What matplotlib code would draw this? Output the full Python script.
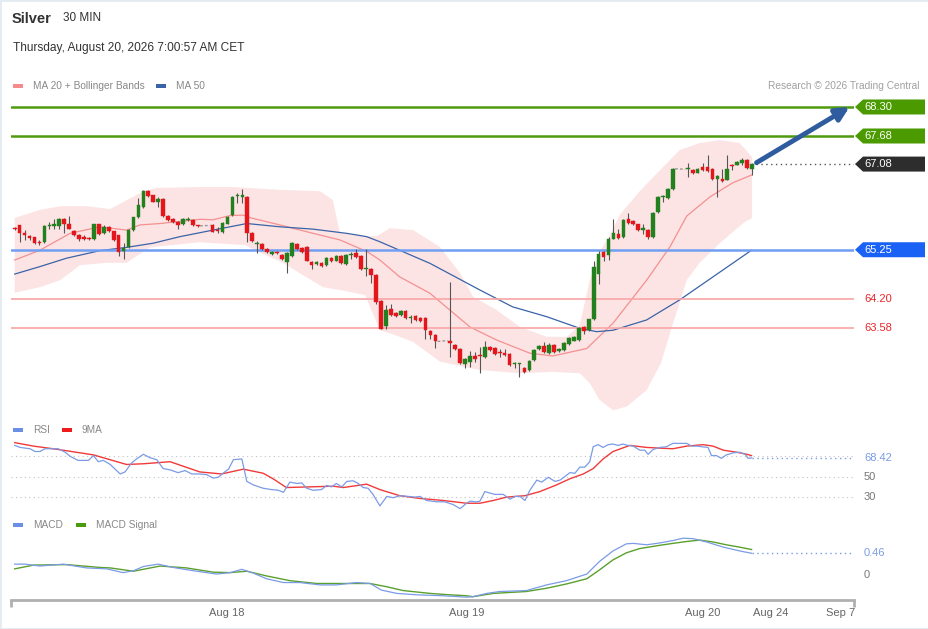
import numpy as np
import matplotlib
matplotlib.use("Agg")
import matplotlib.pyplot as plt
from matplotlib.patches import Polygon, Rectangle
from matplotlib.transforms import blended_transform_factory

plt.rcParams['font.family'] = ['Liberation Sans', 'DejaVu Sans']

W, H = 929, 629

# ---- data -------------------------------------------------------------
# 30 min bars; four sessions split by the one hour daily break
session_start = [0, 40, 88, 136]
session_len = [38, 46, 46, 14]

opens = [
    65.71, 65.77, 65.60, 65.54, 65.52, 65.41, 65.42, 65.75, 65.76, 65.76,
    65.91, 65.81, 65.66, 65.57, 65.52, 65.51, 65.47, 65.80, 65.61, 65.74,
    65.64, 65.56, 65.22, 65.30, 65.67, 65.94, 66.17, 66.50, 66.41, 66.28,
    66.34, 65.98, 65.90, 65.84, 65.79, 65.89, 65.89, 65.77,
    65.77, 65.66, 65.63, 65.81, 65.99, 66.39, 66.37, 66.38, 65.60, 65.37,
    65.38, 65.27, 65.16, 65.21, 65.14, 64.99, 65.12, 65.37, 65.29, 65.30,
    64.99, 64.94, 64.97, 64.93, 65.07, 65.02, 65.12, 64.94, 65.13, 65.19,
    65.12, 64.84, 64.83, 64.72, 64.16, 63.63, 63.98, 63.89, 63.86, 63.95,
    63.79, 63.83, 63.79, 63.79, 63.52, 63.43,
    63.31, 63.21, 63.13, 62.81, 62.85, 62.98, 62.99, 62.96, 63.18, 63.15,
    63.05, 63.05, 63.03, 62.80, 62.80, 62.72, 62.69, 62.89, 63.12, 63.20,
    63.04, 63.21, 63.08, 63.11, 63.24, 63.31, 63.32, 63.59, 63.53, 63.76,
    64.73, 65.20, 65.13, 65.49, 65.58, 65.52, 65.90, 65.86, 65.79, 65.68,
    65.68, 65.52, 66.06, 66.37, 66.35, 66.54,
    66.97, 66.95, 66.90, 67.01, 67.01, 66.97, 66.76, 66.77, 66.75, 67.07,
    67.07, 67.10, 67.17, 66.98,
]
highs = [
    65.74, 65.78, 65.67, 65.57, 65.53, 65.46, 65.77, 65.85, 65.90, 65.92,
    65.92, 65.97, 65.67, 65.58, 65.57, 65.53, 65.81, 65.81, 65.77, 65.76,
    65.66, 65.57, 65.39, 65.69, 65.96, 66.35, 66.52, 66.53, 66.43, 66.38,
    66.36, 66.00, 65.92, 65.86, 65.93, 65.95, 65.91, 65.78,
    65.79, 65.73, 65.84, 65.97, 66.40, 66.46, 66.54, 66.40, 65.62, 65.44,
    65.40, 65.29, 65.23, 65.23, 65.16, 65.21, 65.42, 65.40, 65.31, 65.32,
    65.01, 65.01, 64.99, 65.09, 65.09, 65.14, 65.14, 65.15, 65.20, 65.27,
    65.14, 65.27, 64.85, 64.74, 64.18, 64.06, 64.10, 63.91, 63.97, 63.97,
    63.85, 63.85, 63.81, 63.81, 63.54, 63.45,
    64.56, 63.23, 63.15, 62.93, 63.09, 63.06, 63.18, 63.29, 63.20, 63.17,
    63.12, 63.13, 63.05, 62.85, 62.83, 62.74, 62.90, 63.13, 63.21, 63.28,
    63.26, 63.23, 63.15, 63.27, 63.38, 63.41, 63.60, 63.61, 63.78, 65.00,
    65.22, 65.22, 65.53, 65.90, 65.69, 65.91, 66.04, 65.88, 65.81, 65.81,
    65.70, 66.06, 66.40, 66.41, 66.56, 67.00,
    67.10, 66.97, 67.00, 67.10, 67.28, 66.99, 66.85, 66.98, 67.28, 67.09,
    67.14, 67.21, 67.19, 67.10,
]
lows = [
    65.67, 65.42, 65.46, 65.46, 65.37, 65.35, 65.40, 65.69, 65.69, 65.69,
    65.61, 65.69, 65.55, 65.44, 65.46, 65.45, 65.45, 65.57, 65.59, 65.62,
    65.44, 65.12, 65.06, 65.28, 65.65, 65.92, 66.15, 66.38, 66.26, 66.16,
    65.95, 65.87, 65.82, 65.70, 65.77, 65.86, 65.75, 65.74,
    65.62, 65.60, 65.61, 65.80, 65.97, 66.24, 66.24, 65.42, 65.42, 65.17,
    65.25, 65.18, 65.13, 65.15, 65.03, 64.76, 65.10, 65.24, 65.18, 65.00,
    64.84, 64.92, 64.88, 64.91, 64.98, 65.00, 64.94, 64.92, 65.06, 65.07,
    64.82, 64.69, 64.53, 64.10, 63.55, 63.55, 63.83, 63.81, 63.84, 63.77,
    63.69, 63.73, 63.71, 63.35, 63.35, 63.16,
    62.95, 63.11, 62.80, 62.73, 62.75, 62.86, 62.61, 62.94, 63.09, 63.00,
    62.96, 62.99, 62.77, 62.72, 62.54, 62.62, 62.66, 62.87, 63.10, 63.04,
    63.02, 63.04, 63.06, 63.09, 63.22, 63.29, 63.30, 63.45, 63.51, 63.74,
    64.52, 65.02, 65.03, 65.47, 65.48, 65.50, 65.81, 65.78, 65.65, 65.59,
    65.47, 65.50, 66.04, 66.27, 66.33, 66.52,
    66.81, 66.86, 66.88, 66.93, 66.92, 66.75, 66.38, 66.70, 66.73, 66.95,
    67.05, 67.07, 66.98, 66.85,
]
closes = [
    65.70, 65.60, 65.56, 65.50, 65.40, 65.40, 65.76, 65.76, 65.80, 65.91,
    65.81, 65.70, 65.57, 65.47, 65.47, 65.47, 65.80, 65.59, 65.74, 65.64,
    65.46, 65.21, 65.29, 65.67, 65.94, 66.20, 66.50, 66.40, 66.28, 66.34,
    65.97, 65.89, 65.84, 65.77, 65.90, 65.90, 65.77, 65.76,
    65.63, 65.64, 65.83, 65.96, 66.38, 66.40, 66.43, 65.61, 65.44, 65.38,
    65.27, 65.20, 65.21, 65.17, 65.05, 65.19, 65.40, 65.26, 65.20, 65.02,
    64.92, 64.99, 64.90, 65.07, 65.00, 65.12, 64.96, 65.13, 65.14, 65.09,
    64.84, 64.85, 64.70, 64.13, 63.56, 63.96, 63.85, 63.83, 63.95, 63.79,
    63.80, 63.75, 63.73, 63.53, 63.43, 63.29,
    63.25, 63.13, 62.82, 62.91, 62.99, 62.92, 62.98, 63.18, 63.11, 63.02,
    63.04, 63.01, 62.79, 62.83, 62.80, 62.64, 62.88, 63.11, 63.19, 63.06,
    63.22, 63.06, 63.13, 63.25, 63.36, 63.39, 63.58, 63.52, 63.76, 64.89,
    65.16, 65.09, 65.48, 65.60, 65.50, 65.89, 65.83, 65.80, 65.67, 65.69,
    65.52, 66.04, 66.38, 66.38, 66.54, 66.98,
    66.97, 66.88, 66.98, 66.95, 66.94, 66.77, 66.83, 66.72, 66.97, 67.04,
    67.12, 67.17, 67.00, 67.08,
]

# indicators, read at bar positions
ma20_x = [0, 5.1, 11.2, 17.2, 22.6, 25.3, 29.4, 37.4, 40.1, 43.5, 46.1, 48.1,
          53.6, 60.3, 65.7, 71.2, 73.8, 77.8, 83.9, 92.0, 97.4, 104.1, 108.7,
          115.6, 120.9, 127.7, 132.4, 135.8, 140.5, 145.1, 149]
ma20 = [65.03, 65.24, 65.60, 65.74, 65.67, 65.78, 65.81, 65.90, 65.89, 65.98,
        65.99, 65.92, 65.78, 65.60, 65.46, 65.21, 65.03, 64.67, 64.32, 63.60,
        63.32, 63.04, 62.98, 63.14, 63.68, 64.60, 65.31, 65.97, 66.38, 66.68,
        66.85]
ma50_x = [0, 5.1, 10.5, 17.2, 22.6, 28, 33.4, 40.1, 46.9, 53.6, 60.3, 67.1,
          71.1, 73.8, 83.9, 94, 100.6, 107.5, 114.2, 117.6, 120.9, 127.7,
          134.4, 141.1, 148.9]
ma50 = [64.73, 64.89, 65.07, 65.23, 65.30, 65.39, 65.53, 65.67, 65.81, 65.74,
        65.69, 65.60, 65.53, 65.42, 64.96, 64.39, 64.03, 63.82, 63.57, 63.50,
        63.53, 63.75, 64.18, 64.67, 65.24]
bb_up_x = [0, 5.1, 9.2, 14.6, 19.3, 23.9, 25.9, 28.7, 37.4, 44.1, 53.6, 61.7,
           64.3, 65.7, 69.8, 73.2, 75.8, 80.5, 85.9, 90, 92.6, 97.4, 102.1,
           107.5, 111.6, 114.2, 116.2, 118.2, 120.2, 122.3, 126.3, 130.4,
           134.4, 138.4, 142.5, 146.5, 149]
bb_up = [65.93, 66.10, 66.18, 66.18, 66.12, 66.38, 66.50, 66.57, 66.59, 66.59,
         66.53, 66.50, 66.31, 65.61, 65.54, 65.54, 65.71, 65.67, 65.31, 64.75,
         64.25, 63.96, 63.60, 63.39, 63.39, 63.64, 64.60, 65.20, 65.55, 66.00,
         66.50, 66.95, 67.38, 67.53, 67.59, 67.53, 67.23]
bb_low_x = [0, 5.1, 9.2, 13.2, 18.6, 22.6, 27.3, 37.4, 46.5, 50.6, 54.2, 57.6,
            62.3, 66.8, 70.8, 73.8, 76.8, 80.5, 85.9, 94, 102.1, 108.7, 114.2,
            116.2, 118.2, 120.9, 123.7, 127.7, 130.6, 132.6, 135.8, 138.4,
            142.5, 145.1, 147.5, 149]
bb_low = [64.33, 64.45, 64.60, 64.92, 64.97, 64.97, 65.30, 65.41, 65.35, 65.14,
          64.97, 64.75, 64.45, 64.37, 64.28, 63.53, 63.43, 63.28, 62.86, 62.68,
          62.61, 62.64, 62.61, 62.40, 62.04, 61.82, 61.90, 62.25, 62.83, 63.53,
          64.60, 64.97, 65.39, 65.63, 65.84, 65.93]

rsi_x = [0, 1.1, 3.1, 4.1, 5.1, 6.1, 8.8, 10.2, 11.2, 12.8, 14.9, 15.9, 16.9,
         17.9, 19.3, 20.3, 21.3, 22.3, 23.6, 24.6, 26, 27.3, 28.7, 30, 31.4, 33,
         34.4, 35.8, 37.4, 38.8, 40.1, 41.1, 42.1, 43.2, 44.2, 45.9, 46.9, 48.2,
         50.2, 51.9, 53.3, 54.3, 55.6, 57, 58, 59, 60.3, 62, 63, 64, 65, 66.1,
         67.1, 68.4, 69.4, 70.4, 71.4, 72.4, 73.8, 75.2, 76.5, 77.8, 79.5, 80.9,
         81.9, 83.2, 85.3, 86.9, 88.6, 90, 91.3, 92, 93.3, 94, 95, 96, 97, 98.7,
         100.1, 101.1, 102.1, 103.1, 104.1, 105.5, 106.5, 107.8, 109.2, 110.2,
         112.2, 113.2, 114.2, 115.2, 116.2, 116.9, 117.9, 118.9, 119.9, 120.9,
         121.9, 122.9, 123.9, 125, 126.3, 127.3, 128, 129, 130.4, 131.7, 133,
         134.4, 135.8, 136.8, 137.8, 138.8, 140.1, 140.8, 141.8, 142.8, 143.8,
         145.2, 146.5, 147.6, 148.2, 148.9]
rsi = [80.7, 78.7, 77.4, 74.7, 74.7, 77.4, 77.4, 74.0, 70.0, 66.0,
       66.0, 70.7, 64.7, 66.0, 62.0, 57.4, 52.7, 54.7, 63.4, 67.4,
       72.0, 68.7, 66.7, 58.0, 56.7, 54.0, 56.0, 52.7, 52.7, 52.0,
       48.7, 49.4, 53.4, 57.4, 66.7, 67.4, 45.4, 42.0, 38.7, 37.4,
       36.7, 34.7, 44.7, 43.4, 44.0, 38.7, 36.7, 37.4, 41.4, 40.0,
       43.4, 40.0, 45.4, 46.0, 43.4, 39.4, 38.7, 32.7, 21.4, 30.7,
       29.4, 31.4, 30.7, 30.0, 30.7, 26.7, 25.4, 25.4, 22.7, 18.7,
       24.0, 26.0, 25.4, 26.0, 35.4, 34.0, 32.7, 32.7, 28.0, 30.7,
       30.7, 26.7, 36.7, 46.7, 44.7, 49.4, 45.4, 46.7, 54.0, 53.4,
       59.4, 59.4, 64.7, 79.4, 81.4, 78.7, 81.4, 82.0, 80.7, 82.0,
       80.7, 80.0, 76.0, 76.0, 72.0, 76.7, 78.7, 79.4, 82.7, 82.7,
       82.7, 80.0, 80.0, 79.4, 78.7, 70.7, 70.7, 68.0, 71.4, 73.4,
       74.0, 72.0, 68.0, 68.42]
rsi_ma_x = [0, 3.8, 8.8, 15.9, 22.6, 26, 31.4, 37.4, 41.8, 46.2, 50.2, 52.2,
            54.9, 64.4, 66.4, 71.1, 73.8, 77.8, 81.9, 86.6, 91.3, 94, 96.7,
            99.4, 103.1, 106.1, 109.5, 112.2, 114.9, 116.9, 118.9, 120.9,
            124.3, 127.7, 130.4, 133, 135.8, 139.1, 141.1, 143.2, 145.9,
            147.9, 148.9]
rsi_ma = [83.4, 80.0, 76.7, 71.4, 62.0, 62.7, 64.7, 54.7, 52.7, 57.4,
          53.4, 48.0, 39.4, 40.7, 39.4, 42.7, 37.4, 31.4, 28.7, 26.7,
          24.0, 24.0, 26.7, 30.0, 31.4, 35.4, 42.0, 48.0, 52.7, 58.0,
          67.4, 74.7, 80.7, 78.7, 78.0, 77.4, 80.0, 81.4, 80.0, 76.0,
          74.0, 72.0, 70.7]

macd_x = [0, 2.1, 5.1, 9.8, 14.5, 18.6, 21.9, 24, 26, 29, 32, 36.1, 40.8, 43.5,
          45.9, 48.2, 50.9, 54.3, 57.6, 61.7, 65, 69.1, 71.8, 74.1, 77.2, 81.2,
          86.6, 91.3, 92.6, 95.4, 98, 103.4, 107.5, 111.5, 115.6, 118.2, 120.9,
          123.6, 125, 127.7, 130.4, 133, 135.1, 137.1, 139.8, 143.2, 146.5,
          148.9]
macd = [0.23, 0.23, 0.19, 0.23, 0.15, 0.13, 0.05, 0.09, 0.18, 0.23,
        0.16, 0.09, 0.02, 0.05, 0.12, 0.04, -0.08, -0.16, -0.16, -0.21,
        -0.21, -0.16, -0.18, -0.32, -0.39, -0.42, -0.44, -0.47, -0.46, -0.39,
        -0.35, -0.33, -0.21, -0.12, 0.02, 0.29, 0.51, 0.66, 0.67, 0.64,
        0.68, 0.73, 0.78, 0.77, 0.70, 0.59, 0.51, 0.46]
sig_x = [0, 3.8, 10.5, 17.2, 19.3, 24, 29.4, 34.7, 40.1, 43.5, 46.9, 50.9,
         55.6, 61, 66.4, 71.8, 75.2, 78.5, 83.9, 87.9, 91.3, 92.6, 96.7, 103.4,
         107.5, 111.5, 115.6, 118.2, 120.9, 123.6, 126.3, 130.4, 133, 135.8,
         138.4, 141.1, 143.8, 146.5, 148.9]
sig = [0.13, 0.21, 0.22, 0.16, 0.15, 0.08, 0.19, 0.15, 0.06, 0.05,
       0.08, -0.02, -0.12, -0.18, -0.18, -0.18, -0.25, -0.33, -0.39, -0.42,
       -0.44, -0.46, -0.39, -0.35, -0.28, -0.19, -0.08, 0.11, 0.32, 0.47,
       0.56, 0.63, 0.67, 0.71, 0.74, 0.70, 0.64, 0.59, 0.54]

resistances = [68.30, 67.68]
last_price = 67.08
pivot = 65.25
supports = [64.20, 63.58]
target = 68.30
rsi_levels = [70, 50, 30]
rsi_last = 68.42
macd_last = 0.46

tick_pos = [42.9, 91.4, 139.0, 152.8, 166.8]
tick_labels = ['Aug 18', 'Aug 19', 'Aug 20', 'Aug 24', 'Sep 7']

# ---- figure -----------------------------------------------------------
GREEN_C, RED_C = '#23801e', '#e3161b'
RSI_C, MACD_C = '#7b9be6', '#7b9be6'
XLIM = (-0.75, 169.6)

fig = plt.figure(figsize=(W / 100, H / 100), dpi=100)
fig.patch.set_facecolor('white')


def axes_px(top, bottom):
    a = fig.add_axes([11 / W, 1 - bottom / H, 843 / W, (bottom - top) / H])
    a.set_xlim(*XLIM)
    a.patch.set_alpha(0)
    for s in a.spines.values():
        s.set_visible(False)
    a.set_xticks([])
    a.set_yticks([])
    return a


ax = axes_px(95, 418)
ax.set_ylim(61.655, 68.556)
ax_rsi = axes_px(436, 516)
ax_rsi.set_ylim(11.5, 89.9)
ax_macd = axes_px(533, 600)
ax_macd.set_ylim(-0.53, 0.89)

# bands and averages
ax.fill(np.r_[bb_up_x, bb_low_x[::-1]], np.r_[bb_up, bb_low[::-1]],
        color='#fde4e4', lw=0, zorder=1)
ax.plot(ma20_x, ma20, color='#f49090', lw=0.9, zorder=2)
ax.plot(ma50_x, ma50, color='#3a63a8', lw=0.9, zorder=2)

# levels
for lv in resistances:
    ax.axhline(lv, color='#4f9a0f', lw=1.8, zorder=2)
ax.axhline(pivot, color='#6f9ef2', lw=1.8, zorder=2)
for lv in supports:
    ax.axhline(lv, color='#f7a6a6', lw=1.2, zorder=2)

# candles
x = np.concatenate([np.arange(s, s + n) for s, n in zip(session_start, session_len)])
o, h, l, c = (np.array(v) for v in (opens, highs, lows, closes))
cols = np.where(c >= o, GREEN_C, RED_C)
ax.vlines(x, l, h, color='#555555', lw=0.8, zorder=3)
ax.bar(x, np.maximum(np.abs(c - o), 0.025), bottom=np.minimum(o, c), width=0.74,
       color=cols, edgecolor=cols, lw=0.3, zorder=4)

# dashed links over the daily breaks
ends = np.cumsum(session_len)
for i in range(len(session_start) - 1):
    k = ends[i] - 1
    ax.plot([x[k] + 0.45, x[k + 1] - 0.45], [c[k], o[k + 1]], color='#999999',
            lw=1, ls=(0, (2, 1.5)), zorder=3)

ax.hlines(last_price, x[-1] + 0.8, XLIM[1], color='#555555', lw=1,
          ls=(0, (1, 2.5)), zorder=2)
ax.annotate('', xy=(168.7, target), xytext=(x[-1] + 0.9, last_price + 0.03),
            arrowprops=dict(arrowstyle='-|>', color='#2e5c9e', lw=3.5,
                            mutation_scale=20, shrinkA=0, shrinkB=0),
            zorder=6, annotation_clip=False)

# price tags on the right
tr = blended_transform_factory(fig.transFigure, ax.transData)
hh = 7.5 * (68.556 - 61.655) / 323


def tag(y, color):
    poly = Polygon([(855 / W, y), (863 / W, y + hh), (925 / W, y + hh),
                    (925 / W, y - hh), (863 / W, y - hh)], closed=True,
                   transform=tr, facecolor=color, edgecolor='none', clip_on=False)
    ax.add_patch(poly)
    ax.text(864 / W, y, f'{y:.2f}', transform=tr, color='white', fontsize=8,
            va='center', ha='left', clip_on=False)


for lv in resistances:
    tag(lv, '#4a9a00')
tag(last_price, '#2d2d2d')
tag(pivot, '#1a62f5')
for lv in supports:
    ax.text(864 / W, lv, f'{lv:.2f}', transform=tr, color='#e8262a', fontsize=8,
            va='center', ha='left', clip_on=False)

# RSI panel
ax_rsi.hlines(rsi_levels, XLIM[0], XLIM[1], color='#c2c2c2', lw=0.8,
              ls=(0, (1, 3)))
ax_rsi.plot(rsi_ma_x, rsi_ma, color='#f03a3a', lw=1)
ax_rsi.plot(rsi_x, rsi, color=RSI_C, lw=0.9)
ax_rsi.hlines(rsi_last, rsi_x[-1], XLIM[1], color=RSI_C, lw=1, ls=(0, (1, 2.5)))
tr_r = blended_transform_factory(fig.transFigure, ax_rsi.transData)
ax_rsi.text(864 / W, rsi_last, f'{rsi_last:.2f}', transform=tr_r, color=RSI_C,
            fontsize=8, va='center')
for lv in rsi_levels[1:]:
    ax_rsi.text(864 / W, lv, str(lv), transform=tr_r, color='#777777',
                fontsize=8, va='center')

# MACD panel
ax_macd.plot(sig_x, sig, color='#5aa02c', lw=1)
ax_macd.plot(macd_x, macd, color=MACD_C, lw=0.9)
ax_macd.hlines(macd_last, macd_x[-1], XLIM[1], color=MACD_C, lw=1,
               ls=(0, (1, 2.5)))
tr_m = blended_transform_factory(fig.transFigure, ax_macd.transData)
ax_macd.text(864 / W, macd_last, f'{macd_last:.2f}', transform=tr_m,
             color=MACD_C, fontsize=8, va='center')
ax_macd.text(864 / W, 0, '0', transform=tr_m, color='#777777', fontsize=8,
             va='center')

# time axis
ax_macd.spines['bottom'].set_visible(True)
ax_macd.spines['bottom'].set_color('#b0b0b0')
ax_macd.spines['bottom'].set_linewidth(2)
ax_macd.set_xticks(tick_pos, tick_labels)
ax_macd.set_xticks(list(XLIM), minor=True)
ax_macd.tick_params(axis='x', which='major', length=0, labelsize=8,
                    labelcolor='#666666', pad=6)
ax_macd.tick_params(axis='x', which='minor', length=5, width=2, color='#b0b0b0')

# header and legends
fig.text(12 / W, 1 - 19 / H, 'Silver', fontsize=10.5, fontweight='bold',
         color='#333333', va='center')
fig.text(63 / W, 1 - 18 / H, '30 MIN', fontsize=8.5, color='#333333', va='center')
fig.text(13 / W, 1 - 48 / H, 'Thursday, August 20, 2026 7:00:57 AM CET',
         fontsize=8.6, color='#333333', va='center')
fig.text(920 / W, 1 - 86 / H, 'Research \u00a9 2026 Trading Central',
         fontsize=7.3, color='#a0a0a0', va='center', ha='right')


def legend_item(x0, y0, color, label):
    fig.add_artist(Rectangle((x0 / W, 1 - (y0 + 2) / H), 10 / W, 4 / H,
                             transform=fig.transFigure, color=color, lw=0))
    fig.text((x0 + 20) / W, 1 - y0 / H, label, fontsize=7.3, color='#888888',
             va='center')


legend_item(13, 86, '#f78a8a', 'MA 20 + Bollinger Bands')
legend_item(156, 86, '#3a63a8', 'MA 50')
legend_item(13, 430, '#6b8fe6', 'RSI')
legend_item(62, 430, '#ee1c1c', '9MA')
legend_item(13, 525, '#6b8fe6', 'MACD')
legend_item(76, 525, '#4a9c0e', 'MACD Signal')

fig.add_artist(Rectangle((0, 0), 1, 1, transform=fig.transFigure, fill=False,
                         edgecolor='#e4ebf1', lw=2))

fig.savefig('out.png', dpi=100, facecolor='white')
